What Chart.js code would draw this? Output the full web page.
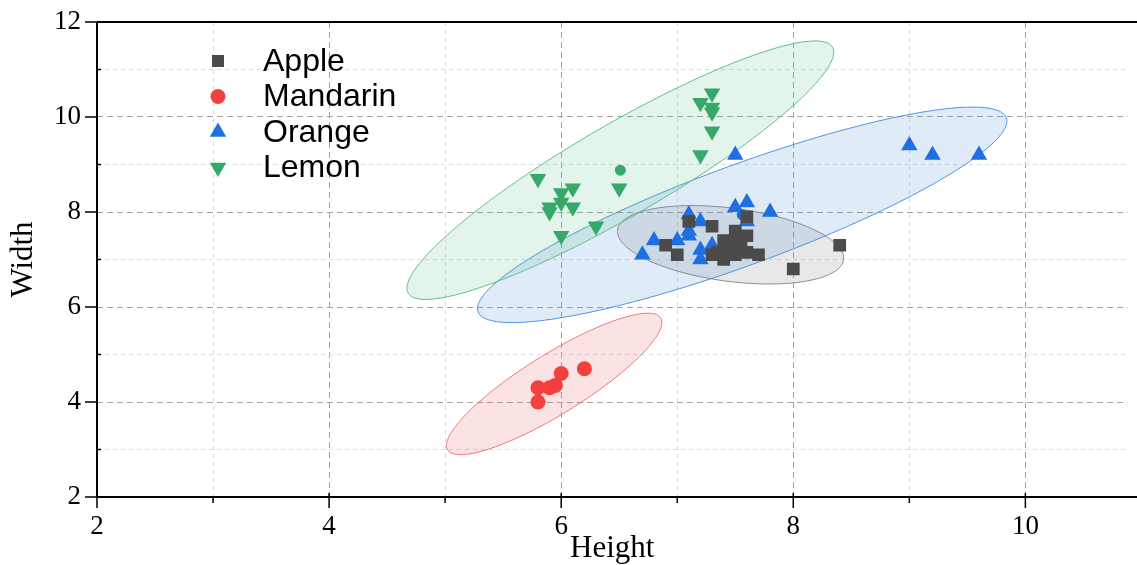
<!DOCTYPE html>
<html>
<head>
<meta charset="utf-8">
<script src="https://cdn.jsdelivr.net/npm/chart.js@4.4.0/dist/chart.umd.min.js"></script>
<style>
  html, body { margin: 0; padding: 0; background: #fff; overflow: hidden; }
  canvas { display: block; }
</style>
</head>
<body>
<canvas id="fruitChart" width="1137" height="565"></canvas>
<script>
// fruit groups
var categories = ['Apple', 'Mandarin', 'Orange', 'Lemon'];

var appleHeight = [7.1, 7.3, 6.9, 7.0, 7.5, 7.6, 7.6, 7.4, 7.5, 7.3, 7.4, 7.5, 7.7, 7.6, 8.0, 8.4, 7.45, 7.55, 7.35];
var appleWidth  = [7.8, 7.7, 7.3, 7.1, 7.6, 7.9, 7.5, 7.4, 7.35, 7.1, 7.0, 7.1, 7.1, 7.15, 6.8, 7.3, 7.25, 7.35, 7.15];

var mandarinHeight = [5.8, 5.9, 5.95, 6.0, 6.2, 5.8];
var mandarinWidth  = [4.3, 4.3, 4.35, 4.6, 4.7, 4.0];

var orangeHeight = [7.1, 7.2, 7.5, 7.6, 7.8, 7.6, 7.1, 7.1, 6.8, 7.0, 6.7, 7.2, 7.2, 7.3, 7.5, 9.0, 9.2, 9.6];
var orangeWidth  = [7.95, 7.8, 8.1, 8.2, 8.0, 7.8, 7.6, 7.5, 7.4, 7.4, 7.1, 7.2, 7.0, 7.3, 9.2, 9.4, 9.2, 9.2];

var lemonHeight = [7.3, 7.2, 7.3, 7.3, 7.3, 7.2, 5.8, 6.1, 6.0, 6.0, 5.9, 5.9, 6.1, 6.5, 6.3, 6.0];
var lemonWidth  = [10.5, 10.3, 10.2, 10.1, 9.7, 9.2, 8.7, 8.5, 8.4, 8.2, 8.1, 8.0, 8.1, 8.5, 7.7, 7.5];

// confidence ellipses: centre and two conjugate half-axes, in data units
var ellipseCenter = [[7.46, 7.31], [5.94, 4.38], [7.56, 7.94], [6.51, 8.88]];
var ellipseAxisA  = [[0.974, -0.253], [0.918, 1.389], [2.276, 2.042], [1.828, 2.589]];
var ellipseAxisB  = [[-0.034, 0.786], [-0.136, 0.537], [-0.149, 0.988], [-0.199, 0.838]];

// axis ticks
var xTicks = [2, 4, 6, 8, 10];
var yTicks = [2, 4, 6, 8, 10, 12];

var colors  = ['#4b4b4b', '#f43f3f', '#1f6fe3', '#36a86a'];
var fills   = ['rgba(120,120,120,0.17)', 'rgba(230,90,90,0.17)', 'rgba(80,150,215,0.18)', 'rgba(70,180,120,0.15)'];
var strokes = ['#8c8c8c', '#f27676', '#4f93e6', '#62bf8a'];
var styles  = ['rect', 'circle', 'triangle', 'triangle'];
var radii   = [9, 7.5, 9.5, 9.5];
var rots    = [0, 0, 0, 180];

function pts(xs, ys) {
  return xs.map(function (v, i) { return { x: v, y: ys[i] }; });
}
var groups = [pts(appleHeight, appleWidth), pts(mandarinHeight, mandarinWidth),
              pts(orangeHeight, orangeWidth), pts(lemonHeight, lemonWidth)];

function marker(ctx, style, x, y, r, rot) {
  ctx.beginPath();
  if (style === 'rect') {
    ctx.rect(x - r, y - r, 2 * r, 2 * r);
  } else if (style === 'circle') {
    ctx.arc(x, y, r, 0, Math.PI * 2);
  } else {
    var s = rot ? -1 : 1;
    ctx.moveTo(x, y - s * r);
    ctx.lineTo(x + r * 0.866, y + s * r * 0.5);
    ctx.lineTo(x - r * 0.866, y + s * r * 0.5);
    ctx.closePath();
  }
  ctx.fill();
}

var extras = {
  id: 'extras',
  beforeDatasetsDraw: function (chart) {
    var ctx = chart.ctx, a = chart.chartArea, xs = chart.scales.x, ys = chart.scales.y;
    ctx.save();
    ctx.beginPath();
    ctx.rect(a.left, a.top, a.right - a.left, a.bottom - a.top);
    ctx.clip();
    categories.forEach(function (name, i) {
      var c = ellipseCenter[i], u = ellipseAxisA[i], v = ellipseAxisB[i];
      ctx.beginPath();
      for (var k = 0; k <= 180; k++) {
        var t = k / 180 * Math.PI * 2;
        var px = xs.getPixelForValue(c[0] + Math.cos(t) * u[0] + Math.sin(t) * v[0]);
        var py = ys.getPixelForValue(c[1] + Math.cos(t) * u[1] + Math.sin(t) * v[1]);
        if (k === 0) ctx.moveTo(px, py); else ctx.lineTo(px, py);
      }
      ctx.closePath();
      ctx.fillStyle = fills[i];
      ctx.fill();
      ctx.strokeStyle = strokes[i];
      ctx.lineWidth = 1;
      ctx.stroke();
    });
    categories.forEach(function (name, i) {
      ctx.fillStyle = colors[i];
      ctx.beginPath();
      ctx.arc(xs.getPixelForValue(ellipseCenter[i][0]), ys.getPixelForValue(ellipseCenter[i][1]), 5.5, 0, Math.PI * 2);
      ctx.fill();
    });
    ctx.restore();
  },
  afterDraw: function (chart) {
    var ctx = chart.ctx, a = chart.chartArea, xs = chart.scales.x, ys = chart.scales.y;
    ctx.save();
    ctx.strokeStyle = '#000';
    ctx.lineWidth = 2;
    ctx.beginPath();
    ctx.moveTo(a.left, a.top); ctx.lineTo(chart.width, a.top);
    ctx.moveTo(a.left, a.top); ctx.lineTo(a.left, a.bottom);
    ctx.moveTo(a.left - 1, a.bottom); ctx.lineTo(chart.width, a.bottom);
    ctx.stroke();
    ctx.lineWidth = 1.5;
    ctx.beginPath();
    for (var xv = 2; xv <= 10; xv++) {
      var px = xs.getPixelForValue(xv);
      if (xv % 2 === 0) { ctx.moveTo(px, a.bottom - 4); ctx.lineTo(px, a.bottom + 11); }
      else { ctx.moveTo(px, a.bottom); ctx.lineTo(px, a.bottom + 6); }
    }
    for (var yv = 2; yv <= 12; yv++) {
      var py = ys.getPixelForValue(yv);
      if (yv % 2 === 0) { ctx.moveTo(a.left - 12, py); ctx.lineTo(a.left, py); }
      else { ctx.moveTo(a.left, py); ctx.lineTo(a.left + 4, py); }
    }
    ctx.stroke();

    // legend
    ctx.font = '32px "Liberation Sans", Arial, sans-serif';
    ctx.textBaseline = 'middle';
    categories.forEach(function (name, i) {
      var ly = 61 + i * 35.5;
      ctx.fillStyle = colors[i];
      var r = [6, 7.5, 9.5, 9.5][i];
      marker(ctx, styles[i], 218, ly, r, rots[i]);
      ctx.fillStyle = '#000';
      ctx.fillText(name, 263, ly + 1);
    });
    ctx.restore();
  }
};

var datasets = categories.map(function (name, i) {
  return {
    label: name,
    data: groups[i],
    backgroundColor: colors[i],
    borderWidth: 0,
    pointStyle: styles[i],
    pointRotation: rots[i],
    pointRadius: radii[i],
    pointHoverRadius: radii[i]
  };
});

var serif = '"Liberation Serif", "Times New Roman", serif';

new Chart(document.getElementById('fruitChart'), {
  type: 'scatter',
  data: { datasets: datasets },
  plugins: [extras],
  options: {
    responsive: false,
    animation: false,
    layout: { padding: { top: 22, right: 0, left: 0, bottom: 0 } },
    plugins: { legend: { display: false }, tooltip: { enabled: false } },
    scales: {
      x: {
        type: 'linear', min: 2, max: 10.88,
        afterFit: function (s) { s.height = 68; s.paddingLeft = 0; s.paddingRight = 0; },
        afterBuildTicks: function (s) {
          s.ticks = [2, 3, 4, 5, 6, 7, 8, 9, 10].map(function (v) { return { value: v }; });
        },
        ticks: {
          padding: 14, color: '#000', maxRotation: 0, autoSkip: false,
          font: { family: serif, size: 27 },
          callback: function (v) { return xTicks.indexOf(v) >= 0 ? String(v) : ''; }
        },
        grid: {
          drawTicks: false, lineWidth: 1,
          color: function (c) { return c.tick && c.tick.value % 2 === 0 ? '#a3a3a3' : '#dadada'; }
        },
        border: { display: false, dash: function (c) { return c.tick && c.tick.value % 2 === 0 ? [6, 4] : [4, 4]; } },
        title: { display: true, text: 'Height', color: '#000', font: { family: serif, size: 31 }, padding: { top: 0, bottom: -2 } }
      },
      y: {
        type: 'linear', min: 2, max: 12,
        afterFit: function (s) { s.width = 97; s.paddingTop = 0; s.paddingBottom = 0; },
        ticks: {
          stepSize: 1, padding: 16, color: '#000',
          font: { family: serif, size: 27 },
          callback: function (v) { return yTicks.indexOf(v) >= 0 ? String(v) : ''; }
        },
        grid: {
          drawTicks: false, lineWidth: 1,
          color: function (c) { return c.tick && c.tick.value % 2 === 0 ? '#a3a3a3' : '#dadada'; }
        },
        border: { display: false, dash: function (c) { return c.tick && c.tick.value % 2 === 0 ? [6, 4] : [4, 4]; } },
        title: { display: true, text: 'Width', color: '#000', font: { family: serif, size: 31 }, padding: { top: 5, bottom: 0 } }
      }
    }
  }
});
</script>
</body>
</html>
